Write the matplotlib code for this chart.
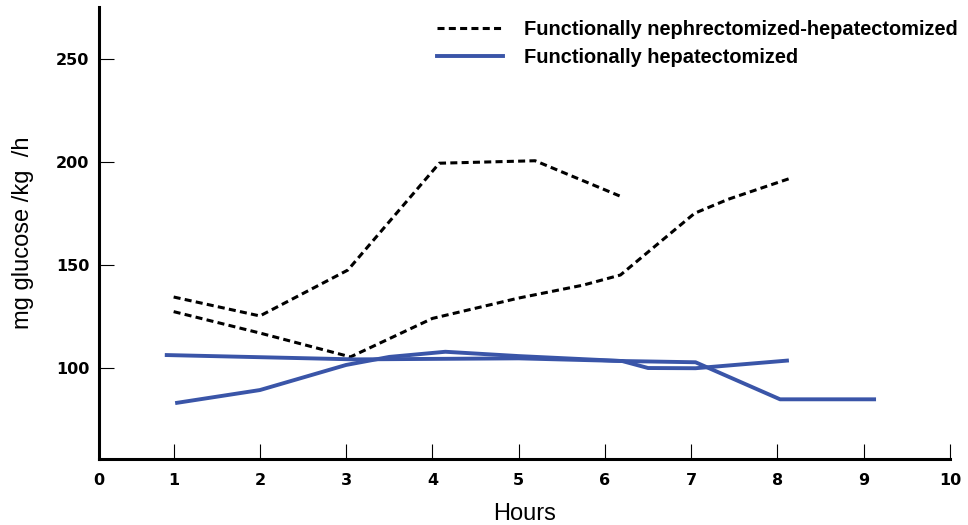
import matplotlib
matplotlib.use('Agg')
import matplotlib.pyplot as plt

plt.rcParams['font.family'] = ['Liberation Sans', 'DejaVu Sans']

# dashed series (functionally nephrectomized-hepatectomized)
hours_a = [1, 2, 3.02, 4.08, 5.19, 6.17]
gluc_a = [134.3, 125.1, 147.4, 199.3, 200.5, 183.4]

hours_b = [1, 2, 3.05, 4, 5, 5.75, 6.18, 7.04, 7.43, 8.15]
gluc_b = [127.2, 116.8, 105.2, 123.9, 133.8, 140.1, 145.0, 175.0, 181.8, 192.0]

# solid series (functionally hepatectomized)
hours_c = [1.04, 2, 3, 3.5, 4.15, 5, 6.2, 7.05, 8.03, 9.12]
gluc_c = [82.9, 89.1, 101.3, 105.2, 107.7, 105.6, 103.2, 102.6, 84.6, 84.6]

hours_d = [0.92, 3.1, 5, 6.2, 6.5, 7.05, 8.11]
gluc_d = [106.1, 104.0, 104.5, 103.2, 99.8, 99.7, 103.4]

x_ticks = list(range(1, 11))
y_ticks = [100, 150, 200, 250]

blue = '#3a55a8'
dash = (0, (2.3, 1.4))

fig = plt.figure(figsize=(9.68, 5.25), dpi=100)
ax = fig.add_axes([0.1023, 0.1257, 0.8791, 0.861])

ax.plot(hours_a, gluc_a, color='black', lw=2.2, linestyle=dash,
        label='Functionally nephrectomized-hepatectomized')
ax.plot(hours_b, gluc_b, color='black', lw=2.2, linestyle=dash)
ax.plot(hours_c, gluc_c, color=blue, lw=2.8, label='Functionally hepatectomized')
ax.plot(hours_d, gluc_d, color=blue, lw=2.8)

ax.set_xlim(0.135, 10)
ax.set_ylim(55.6, 275.2)
ax.set_xticks(x_ticks)
ax.set_yticks(y_ticks)
ax.tick_params(axis='both', direction='in', length=11, width=0.8,
               labelsize=11.5)
ax.tick_params(axis='x', pad=10)
ax.tick_params(axis='y', pad=7)
for lab in ax.get_xticklabels() + ax.get_yticklabels():
    lab.set_fontweight('bold')
    lab.set_family('DejaVu Sans')
ax.annotate('0', xy=(0, 0), xycoords='axes fraction', xytext=(0, -10),
            textcoords='offset points', ha='center', va='top',
            fontsize=11.5, fontweight='bold', family='DejaVu Sans')

for s in ['top', 'right']:
    ax.spines[s].set_visible(False)
for s in ['left', 'bottom']:
    ax.spines[s].set_linewidth(2.2)

ax.set_xlabel('Hours', fontsize=17, labelpad=11)
ax.set_ylabel('mg glucose /kg  /h', fontsize=17, labelpad=16)

ax.legend(loc='upper left', bbox_to_anchor=(0.376, 1.012), frameon=False,
          prop={'weight': 'bold', 'size': 14.4}, handlelength=3.3,
          handletextpad=1.05, labelspacing=0.45)

fig.savefig('out.png', dpi=100)
